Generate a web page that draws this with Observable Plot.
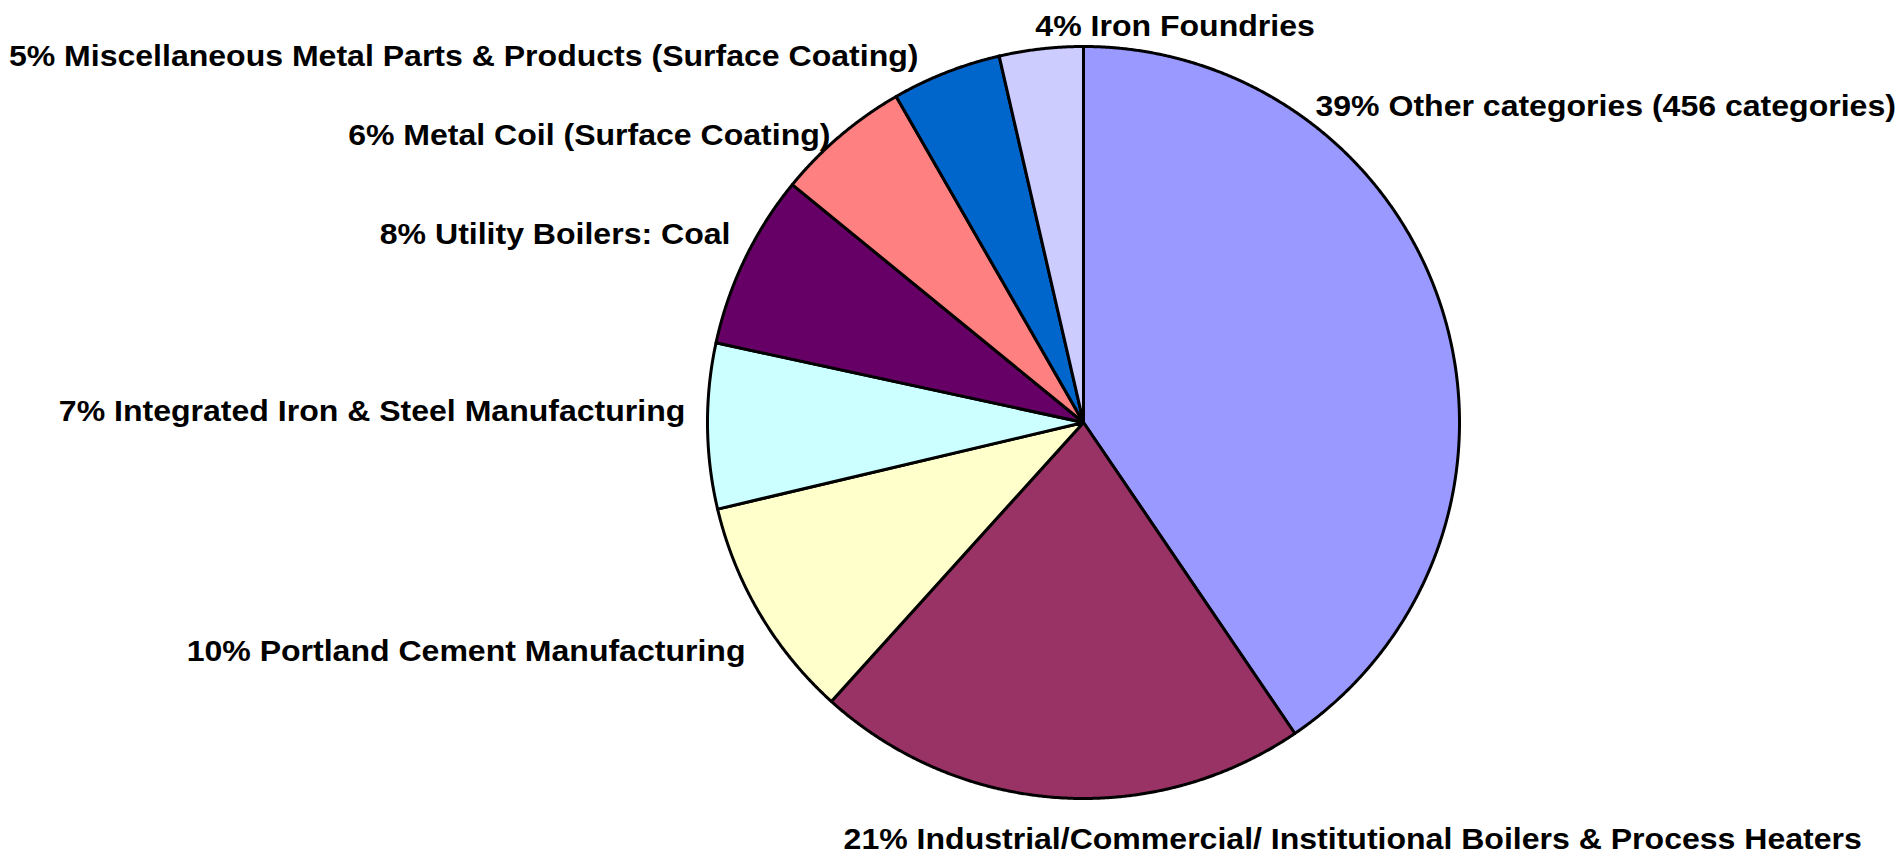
<!DOCTYPE html>
<html><head><meta charset="utf-8">
<script src="https://cdn.jsdelivr.net/npm/d3@7"></script>
<script src="https://cdn.jsdelivr.net/npm/@observablehq/plot@0.6"></script>
<style>html,body{margin:0;padding:0;background:#fff;overflow:hidden}</style>
</head><body><div id="chart"></div>
<script>
// ---- data ----
const categories = [
  "Other categories (456 categories)",
  "Industrial/Commercial/ Institutional Boilers & Process Heaters",
  "Portland Cement Manufacturing",
  "Integrated Iron & Steel Manufacturing",
  "Utility Boilers: Coal",
  "Metal Coil (Surface Coating)",
  "Miscellaneous Metal Parts & Products (Surface Coating)",
  "Iron Foundries"
];
const shares = [40.5, 21.2, 9.6, 7.1, 7.5, 5.8, 4.7, 3.6];
const pctLabels = ["39%", "21%", "10%", "7%", "8%", "6%", "5%", "4%"];
const colors = ["#9999FF", "#993366", "#FFFFCC", "#CCFFFF", "#660066", "#FF8080", "#0066CC", "#CCCCFF"];

// ---- layout (label anchor points in unit-circle coordinates) ----
const labelLayout = [
  {x: 0.617, y: 0.816, anchor: "start"},
  {x: -0.638, y: -1.133, anchor: "start"},
  {x: -0.899, y: -0.633, anchor: "end"},
  {x: -1.059, y: 0.005, anchor: "end"},
  {x: -0.939, y: 0.476, anchor: "end"},
  {x: -0.673, y: 0.737, anchor: "end"},
  {x: -0.439, y: 0.949, anchor: "end"},
  {x: -0.128, y: 1.027, anchor: "start"}
];
const SX = 1.105; // horizontal stretch of label text

// ---- build slice outlines ----
const total = d3.sum(shares);
const pts = [];
let acc = 0;
categories.forEach((name, i) => {
  const a0 = acc / total * 2 * Math.PI;
  acc += shares[i];
  const a1 = acc / total * 2 * Math.PI;
  const n = Math.max(2, Math.ceil((a1 - a0) / 0.004));
  pts.push({name, x: 0, y: 0});
  for (let k = 0; k <= n; k++) {
    const a = a0 + (a1 - a0) * k / n;
    pts.push({name, x: Math.sin(a), y: Math.cos(a)});
  }
});
const labels = categories.map((name, i) => ({
  text: `${pctLabels[i]} ${name}`, x: labelLayout[i].x, y: labelLayout[i].y, anchor: labelLayout[i].anchor
}));

const textOpts = {x: "x", y: "y", text: "text", fontSize: 29, fontWeight: "bold", fill: "black", lineAnchor: "bottom"};

const chart = Plot.plot({
  width: 1898, height: 856,
  margin: 0,
  style: {fontFamily: "'Liberation Sans', Arial, Helvetica, sans-serif", background: "white", overflow: "visible"},
  x: {domain: [-1, 1], range: [707, 1459], axis: null},
  y: {domain: [-1, 1], range: [798, 46], axis: null},
  color: {domain: categories, range: colors},
  marks: [
    Plot.line(pts, {x: "x", y: "y", z: "name", fill: "name", stroke: "black", strokeWidth: 3,
      curve: "linear-closed", strokeLinejoin: "round"}),
    Plot.text(labels.filter(d => d.anchor === "start"), {...textOpts, textAnchor: "start"}),
    Plot.text(labels.filter(d => d.anchor === "end"), {...textOpts, textAnchor: "end"})
  ]
});
document.getElementById("chart").appendChild(chart);

chart.querySelectorAll('g[aria-label="text"] text').forEach(t => {
  const tr = t.getAttribute("transform");
  if (tr) t.setAttribute("transform", tr + ` scale(${SX},1)`);
  else {
    const x = +t.getAttribute("x") || 0, y = +t.getAttribute("y") || 0;
    t.removeAttribute("x"); t.removeAttribute("y");
    t.setAttribute("transform", `translate(${x},${y}) scale(${SX},1)`);
  }
});
</script>
</body></html>
